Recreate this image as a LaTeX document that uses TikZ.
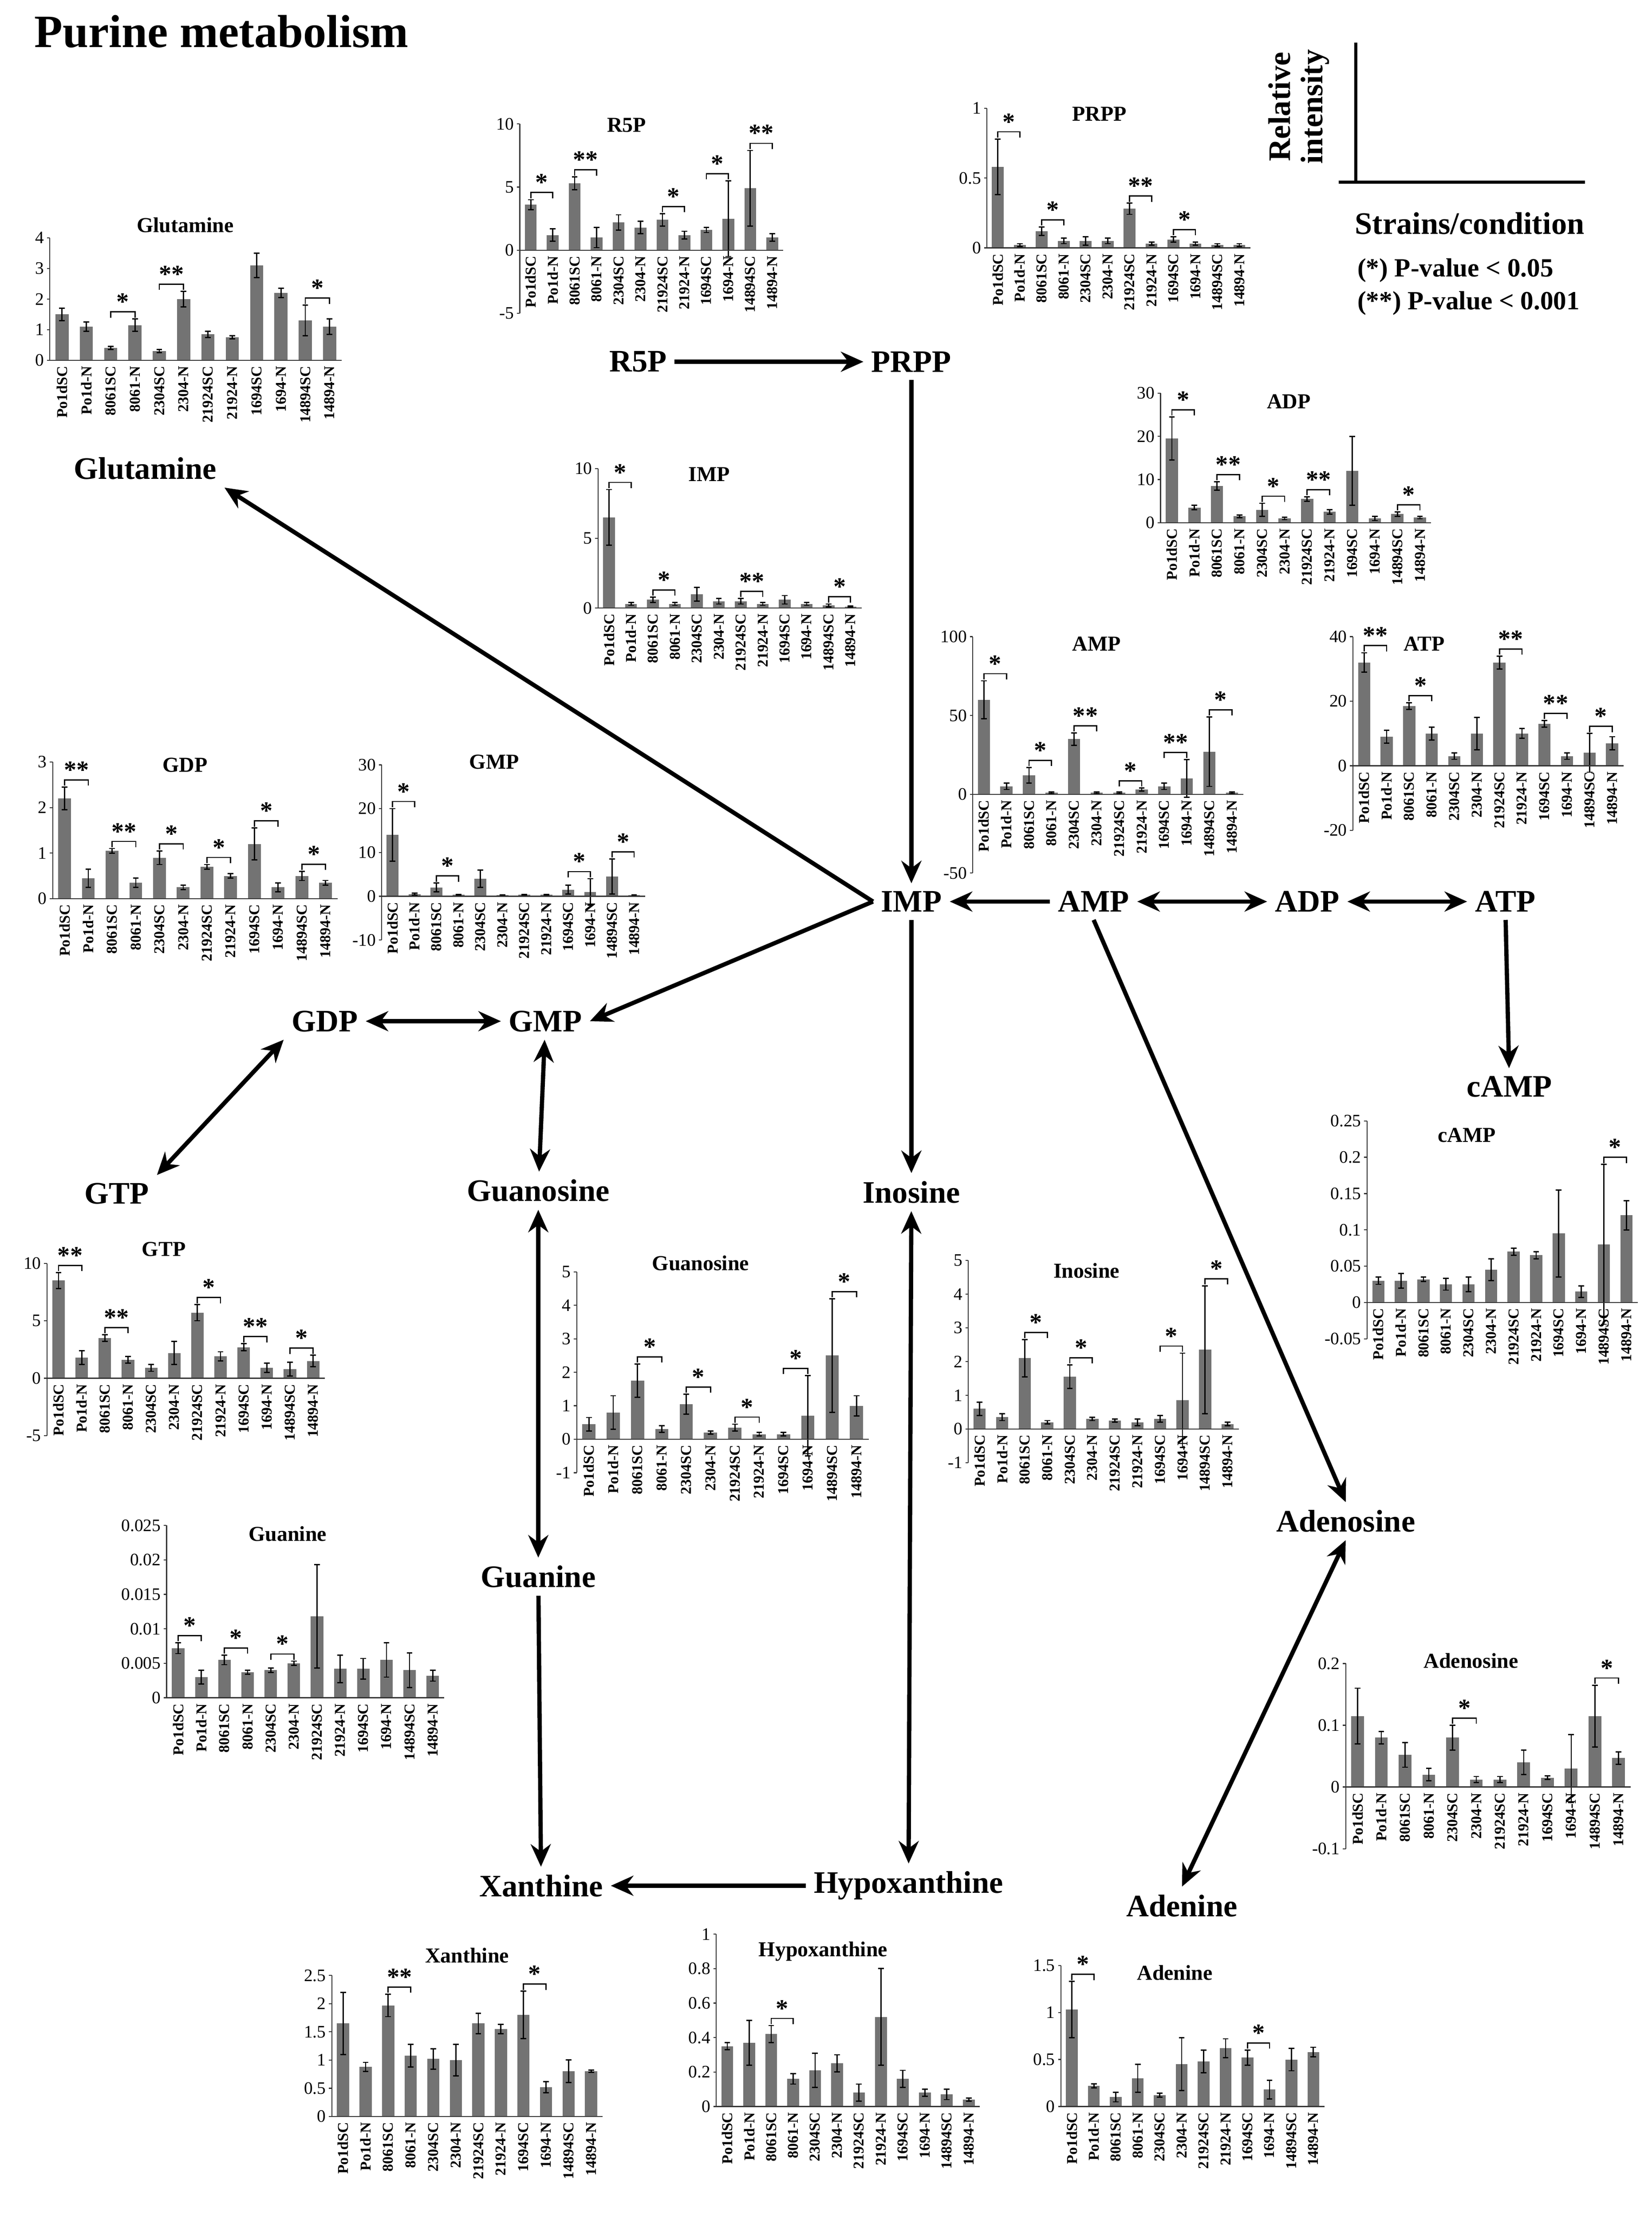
\documentclass[tikz,border=0pt]{standalone}
\usepackage{fontspec}
\setmainfont{Liberation Serif}
\usetikzlibrary{arrows.meta}
\newcommand\lab[1]{\ifcase#1 Po1dSC\or Po1d-N\or 8061SC\or 8061-N\or 2304SC\or 2304-N\or 21924SC\or 21924-N\or 1694SC\or 1694-N\or 14894SC\or 14894-N\fi}
\newcommand\data[3]{\def\cv{#1}\def\ce{#2}\def\cs{#3}}
\tikzset{
 axis/.style={line width=0.4pt,black!80},
 bar/.style={fill=black!55},
 err/.style={line width=0.5pt},
 tick/.style={anchor=east,font=\fontsize{7}{8}\selectfont,inner sep=1pt},
 cat/.style={rotate=90,anchor=east,font=\bfseries\fontsize{6}{7}\selectfont,inner sep=1pt},
 ctitle/.style={font=\bfseries\fontsize{8.5}{10}\selectfont},
 star/.style={anchor=south,font=\bfseries\fontsize{10}{10}\selectfont,inner sep=0.5pt},
 met/.style={font=\bfseries\fontsize{12.5}{14}\selectfont,inner sep=3pt},
 flow/.style={line width=1.7pt,-{Stealth[length=9pt,width=8pt]}},
 both/.style={line width=1.7pt,{Stealth[length=9pt,width=8pt]}-{Stealth[length=9pt,width=8pt]}},
}
\newcommand\chart[7]{%
 \pgfmathsetmacro\sca{(#3-#2)/(#6-#5)}%
 \pgfmathsetmacro\Y{#3+#5*\sca}%
 \pgfmathsetmacro\D{#4/12}%
 \draw[axis] (#1,#2) -- (#1,#3);
 \foreach \t in {#7}{\pgfmathsetmacro\ty{#3-(\t-#5)*\sca}
   \draw[axis] (#1-2,\ty) -- (#1,\ty); \node[tick] at (#1-2,\ty) {\t};}
 \foreach \i in {0,...,11}{
   \pgfmathsetmacro\vv{{\cv}[\i]}
   \pgfmathsetmacro\ee{{\ce}[\i]}
   \pgfmathsetmacro\cx{#1+(\i+0.5)*\D}
   \pgfmathsetmacro\yv{\Y-\vv*\sca}
   \pgfmathsetmacro\ya{\Y-(\vv+\ee)*\sca}
   \pgfmathsetmacro\yb{\Y-(\vv-\ee)*\sca}
   \fill[bar] (\cx-0.27*\D,\Y) rectangle (\cx+0.27*\D,\yv);
   \draw[err] (\cx,\ya) -- (\cx,\yb) (\cx-2,\ya) -- (\cx+2,\ya) (\cx-2,\yb) -- (\cx+2,\yb);
   \node[cat] at (\cx,\Y+2) {\lab{\i}};
 }
 \draw[axis] (#1,\Y) -- (#1+#4,\Y);
 \foreach \k/\sg in \cs {
   \pgfmathtruncatemacro\kk{\k+1}
   \pgfmathsetmacro\ta{max({\cv}[\k]+{\ce}[\k],{\cv}[\kk]+{\ce}[\kk])}
   \pgfmathsetmacro\yt{\Y-\ta*\sca-5}
   \pgfmathsetmacro\ca{#1+(\k+0.5)*\D}
   \pgfmathsetmacro\cb{#1+(\kk+0.5)*\D}
   \draw[err] (\ca,\yt+4) -- (\ca,\yt) -- (\cb,\yt) -- (\cb,\yt+4);
   \node[star] at ({(\ca+\cb)/2},\yt) {\sg};
 }
}
\begin{document}
\begin{tikzpicture}[x=0.02cm,y=-0.02cm]
\useasboundingbox (0,0) rectangle (1160,1558);
\node[anchor=west,font=\bfseries\fontsize{18.5}{20}\selectfont] (title) at (18,22) {Purine metabolism};
% legend
\draw[line width=1.2pt] (952,30) -- (952,128) (940,128) -- (1113,128);
\node[rotate=90,align=center,font=\bfseries\fontsize{12.5}{13}\selectfont] (ri) at (912,75) {Relative\\intensity};
\node[font=\bfseries\fontsize{12.5}{14}\selectfont] (sc) at (1032,157) {Strains/condition};
\node[anchor=west,font=\bfseries\fontsize{10.5}{12}\selectfont] (p1) at (947,190) {(*) P-value < 0.05};
\node[anchor=west,font=\bfseries\fontsize{10.5}{12}\selectfont] (p2) at (947,213) {(**) P-value < 0.001};
% charts
\data{1.5,1.1,0.4,1.15,0.3,2.0,0.85,0.75,3.1,2.2,1.3,1.1}{.2,.15,.05,.2,.05,.25,.1,.05,.4,.15,.5,.25}{2/*,4/**,10/*}
\chart{35}{167}{253}{205}{0}{4}{0,1,2,3,4}
\node[ctitle] at (130,158) {Glutamine};
\data{3.6,1.2,5.3,1.0,2.2,1.8,2.4,1.2,1.6,2.5,4.9,1.0}{.4,.5,.5,.8,.6,.5,.5,.3,.2,3,3,.3}{0/*,2/**,6/*,8/*,10/**}
\chart{365}{87}{220}{185}{-5}{10}{-5,0,5,10}
\node[ctitle] at (440,88) {R5P};
\data{.58,.02,.12,.05,.05,.05,.28,.03,.06,.03,.02,.02}{.2,.01,.03,.02,.03,.02,.04,.01,.02,.01,.01,.01}{0/*,2/*,6/**,8/*}
\chart{693}{76}{174}{185}{0}{1}{0,0.5,1}
\node[ctitle] at (772,80) {PRPP};
\data{19.5,3.5,8.5,1.5,3,1,5.5,2.5,12,1,2,1.2}{5,.5,1,.3,1.5,.3,.5,.5,8,.5,.5,.3}{0/*,2/**,4/*,6/**,10/*}
\chart{815}{276}{367}{190}{0}{30}{0,10,20,30}
\node[ctitle] at (905,282) {ADP};
\data{6.5,.3,.6,.3,1,.5,.5,.3,.6,.3,.2,.1}{2,.1,.2,.1,.5,.2,.2,.1,.3,.1,.1,.05}{0/*,2/*,6/**,10/*}
\chart{420}{329}{427}{185}{0}{10}{0,5,10}
\node[ctitle] at (498,333) {IMP};
\data{60,5,12,1,35,1,1,3,5,10,27,1}{12,2,5,.5,4,.5,.5,1,2,12,22,.5}{0/*,2/*,4/**,6/*,8/**,10/*}
\chart{683}{447}{613}{190}{-50}{100}{-50,0,50,100}
\node[ctitle] at (770,452) {AMP};
\data{32,9,18.5,10,3,10,32,10,13,3,4,7}{3,2,1,2,1,5,2,1.5,1,1,6,2}{0/**,2/*,6/**,8/**,10/*}
\chart{950}{447}{583}{190}{-20}{40}{-20,0,20,40}
\node[ctitle] at (1000,452) {ATP};
\data{2.2,.45,1.05,.35,.9,.25,.7,.5,1.2,.25,.5,.35}{.25,.2,.05,.1,.15,.05,.05,.05,.35,.1,.1,.05}{0/**,2/**,4/*,6/*,8/*,10/*}
\chart{37}{535}{631}{200}{0}{3}{0,1,2,3}
\node[ctitle] at (130,537) {GDP};
\data{14,.5,2,.3,4,.2,.3,.3,1.5,1,4.5,.2}{6,.2,1,.1,2,.1,.1,.1,1,3,4,.1}{0/*,2/*,8/*,10/*}
\chart{268}{537}{660}{185}{-10}{30}{-10,0,10,20,30}
\node[ctitle] at (347,535) {GMP};
\data{.03,.03,.032,.025,.025,.045,.07,.065,.095,.015,.08,.12}{.005,.01,.003,.008,.01,.015,.005,.005,.06,.008,.11,.02}{10/*}
\chart{960}{787}{940}{190}{-0.05}{0.25}{-0.05,0,0.05,0.1,0.15,0.2,0.25}
\node[ctitle] at (1030,797) {cAMP};
\data{8.5,1.8,3.5,1.6,.9,2.2,5.7,1.9,2.7,.9,.8,1.5}{.7,.6,.3,.3,.3,1,.7,.4,.3,.4,.6,.5}{0/**,2/**,6/*,8/**,10/*}
\chart{33}{887}{1008}{195}{-5}{10}{-5,0,5,10}
\node[ctitle] at (115,877) {GTP};
\data{.45,.8,1.75,.3,1.05,.2,.35,.15,.15,.7,2.5,1.0}{.2,.5,.5,.1,.3,.05,.1,.05,.05,1.2,1.7,.3}{2/*,4/*,6/*,8/*,10/*}
\chart{405}{893}{1034}{205}{-1}{5}{-1,0,1,2,3,4,5}
\node[ctitle] at (492,887) {Guanosine};
\data{.6,.35,2.1,.2,1.55,.3,.25,.2,.3,.85,2.35,.15}{.2,.1,.55,.05,.35,.05,.05,.1,.1,1.4,1.9,.05}{2/*,4/*,8/*,10/*}
\chart{680}{885}{1027}{190}{-1}{5}{-1,0,1,2,3,4,5}
\node[ctitle] at (763,892) {Inosine};
\data{.0072,.003,.0055,.0037,.004,.005,.0118,.0042,.0042,.0055,.004,.0032}{.0008,.001,.0007,.0003,.0003,.0003,.0075,.002,.0015,.0025,.0025,.0008}{0/*,2/*,4/*}
\chart{117}{1071}{1192}{195}{0}{0.025}{0,0.005,0.01,0.015,0.02,0.025}
\node[ctitle] at (202,1077) {Guanine};
\data{.115,.08,.052,.02,.08,.012,.012,.04,.015,.03,.115,.047}{.045,.01,.02,.01,.02,.005,.005,.02,.003,.055,.05,.01}{4/*,10/*}
\chart{945}{1168}{1298}{200}{-0.1}{0.2}{-0.1,0,0.1,0.2}
\node[ctitle] at (1033,1166) {Adenosine};
\data{1.65,.88,1.97,1.08,1.02,1.0,1.65,1.55,1.8,.52,.8,.8}{.55,.08,.2,.2,.18,.28,.18,.08,.42,.1,.2,.02}{2/**,8/*}
\chart{233}{1387}{1486}{190}{0}{2.5}{0,0.5,1,1.5,2,2.5}
\node[ctitle] at (328,1373) {Xanthine};
\data{.35,.37,.42,.16,.21,.25,.08,.52,.16,.08,.07,.04}{.02,.13,.05,.03,.1,.05,.05,.28,.05,.02,.03,.01}{2/*}
\chart{503}{1358}{1479}{185}{0}{1}{0,0.2,0.4,0.6,0.8,1}
\node[ctitle] at (578,1370) {Hypoxanthine};
\data{1.03,.22,.1,.3,.12,.45,.48,.62,.52,.18,.5,.58}{.3,.02,.05,.15,.02,.28,.12,.1,.08,.1,.12,.05}{0/*,8/*}
\chart{745}{1380}{1479}{185}{0}{1.5}{0,0.5,1,1.5}
\node[ctitle] at (825,1385) {Adenine};
% pathway
\node[met] (r5p) at (448,254) {R5P};
\node[met] (prpp) at (640,254) {PRPP};
\node[met] (imp) at (640,633) {IMP};
\node[met] (amp) at (768,633) {AMP};
\node[met] (adp) at (918,633) {ADP};
\node[met] (atp) at (1057,633) {ATP};
\node[met] (camp) at (1060,763) {cAMP};
\node[met] (gdp) at (228,717) {GDP};
\node[met] (gmp) at (383,717) {GMP};
\node[met] (gtp) at (82,838) {GTP};
\node[met] (guo) at (378,836) {Guanosine};
\node[met] (ino) at (640,837) {Inosine};
\node[met] (gua) at (378,1107) {Guanine};
\node[met] (ado) at (945,1068) {Adenosine};
\node[met] (xan) at (380,1324) {Xanthine};
\node[met] (hyp) at (638,1324) {Hypoxanthine};
\node[met] (ade) at (830,1338) {Adenine};
\node[met] (gln) at (102,329) {Glutamine};
\draw[flow] (r5p) -- (prpp);
\draw[flow] (prpp) -- (imp);
\draw[flow] (amp) -- (imp);
\draw[both] (amp) -- (adp);
\draw[both] (adp) -- (atp);
\draw[flow] (atp) -- (camp);
\draw[flow] (imp.west) -- (gln.south east);
\draw[flow] (imp.west) -- (gmp.east);
\draw[both] (gdp) -- (gmp);
\draw[both] (gdp.south west) -- (gtp.north east);
\draw[both] (gmp) -- (guo);
\draw[flow] (imp) -- (ino);
\draw[both] (guo) -- (gua);
\draw[flow] (gua) -- (xan);
\draw[both] (ino) -- (hyp);
\draw[flow] (hyp) -- (xan);
\draw[flow] (amp.south) -- (ado.north);
\draw[both] (ado.south) -- (ade.north);
\end{tikzpicture}
\end{document}
